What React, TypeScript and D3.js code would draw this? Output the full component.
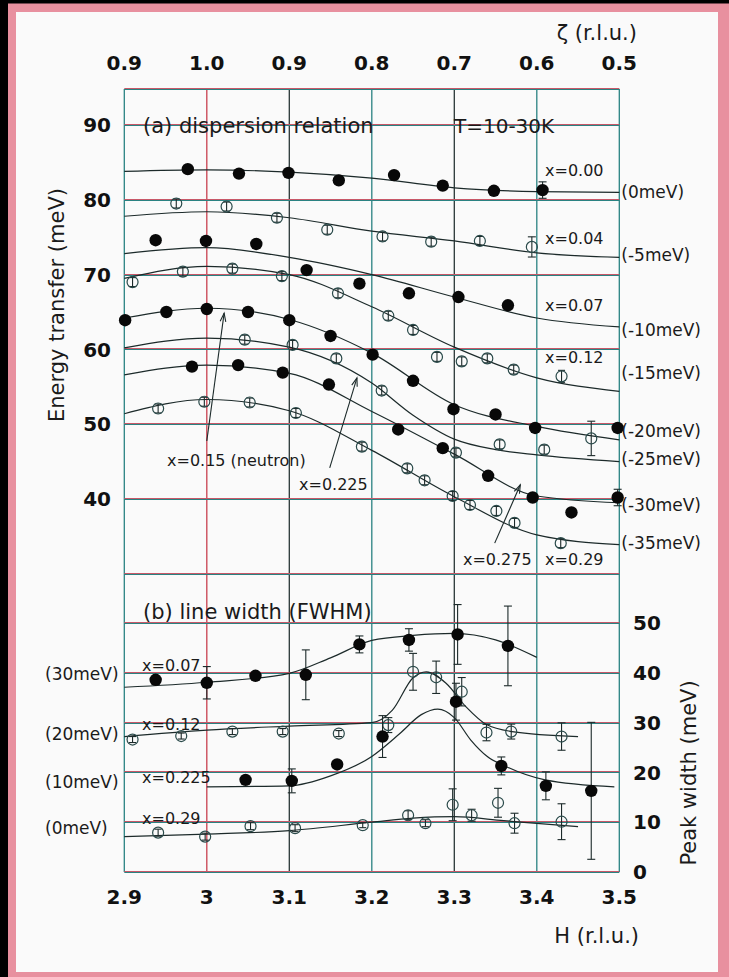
import React from "react";
import * as d3 from "d3";

// axis ticks / labels
const hTicks = [2.9, 3.0, 3.1, 3.2, 3.3, 3.4, 3.5];
const hLabels = ["2.9", "3", "3.1", "3.2", "3.3", "3.4", "3.5"];
const zetaLabels = ["0.9", "1.0", "0.9", "0.8", "0.7", "0.6", "0.5"];
const energyTicks = [90, 80, 70, 60, 50, 40];
const energyGrid = [90, 80, 70, 60, 50, 40, 30];
const widthTicks = [0, 10, 20, 30, 40, 50];
const widthGrid = [10, 20, 30, 40, 50];

// (a) dispersion relation: measured points [H, E(meV), err]
const dispX000 = [[2.977, 84.1, 0], [3.039, 83.5, 0], [3.099, 83.6, 0], [3.16, 82.6, 0], [3.227, 83.3, 0], [3.286, 81.9, 0], [3.348, 81.2, 0], [3.407, 81.3, 1.1]];
const dispX004 = [[2.963, 79.5, 0.6], [3.024, 79.1, 0.6], [3.085, 77.6, 0.6], [3.146, 76.0, 0.6], [3.213, 75.1, 0.6], [3.272, 74.4, 0.6], [3.331, 74.5, 0.6], [3.394, 73.7, 1.35]];
const dispX007 = [[2.938, 74.6, 0], [2.999, 74.5, 0], [3.06, 74.1, 0], [3.121, 70.6, 0], [3.185, 68.8, 0], [3.245, 67.5, 0], [3.305, 67.0, 0], [3.365, 65.9, 0]];
const dispX012 = [[2.91, 69.0, 0.6], [2.971, 70.4, 0.6], [3.031, 70.8, 0.6], [3.091, 69.8, 0.6], [3.159, 67.5, 0.6], [3.22, 64.5, 0.6], [3.25, 62.6, 0.6], [3.279, 59.0, 0.6], [3.309, 58.4, 0.6], [3.34, 58.8, 0.6], [3.372, 57.3, 0.6], [3.43, 56.4, 0.8]];
const dispX015 = [[2.901, 63.9, 0], [2.951, 65.0, 0], [3.0, 65.4, 0], [3.05, 65.0, 0], [3.1, 63.9, 0], [3.15, 61.8, 0], [3.201, 59.3, 0], [3.25, 55.8, 0], [3.299, 52.0, 0], [3.35, 51.3, 0], [3.398, 49.5, 0], [3.498, 49.5, 0]];
const dispX0225 = [[3.046, 61.3, 0.6], [3.104, 60.6, 0.6], [3.157, 58.8, 0.6], [3.212, 54.5, 0.6], [3.302, 46.2, 0.6], [3.355, 47.3, 0.6], [3.409, 46.6, 0.6], [3.466, 48.1, 2.3]];
const dispX0275 = [[2.982, 57.7, 0], [3.038, 57.9, 0], [3.092, 56.9, 0], [3.148, 55.3, 0], [3.232, 49.3, 0], [3.286, 46.8, 0], [3.341, 43.1, 0], [3.395, 40.2, 0], [3.442, 38.2, 0], [3.498, 40.2, 1.1]];
const dispX029 = [[2.941, 52.1, 0.6], [2.997, 53.0, 0.6], [3.052, 52.9, 0.6], [3.108, 51.5, 0.6], [3.188, 47.0, 0.6], [3.243, 44.1, 0.6], [3.264, 42.5, 0.6], [3.298, 40.4, 0.6], [3.319, 39.2, 0.6], [3.351, 38.4, 0.6], [3.373, 36.8, 0.6], [3.429, 34.1, 0.6]];

// (a) fitted curves [H, E]
const fitX000 = [[2.9, 83.8], [3.0, 84.0], [3.1, 83.7], [3.2, 82.9], [3.3, 81.6], [3.4, 81.1], [3.5, 81.0]];
const fitX004 = [[2.9, 77.8], [3.0, 78.4], [3.1, 77.6], [3.2, 75.8], [3.3, 74.5], [3.4, 72.9], [3.5, 72.3]];
const fitX007 = [[2.9, 72.8], [3.0, 73.6], [3.1, 72.3], [3.2, 70.0], [3.3, 67.0], [3.4, 64.2], [3.5, 63.0]];
const fitX012 = [[2.9, 69.5], [3.0, 71.1], [3.1, 70.0], [3.2, 65.7], [3.3, 60.3], [3.4, 56.2], [3.5, 54.4]];
const fitX015 = [[2.9, 64.2], [3.0, 65.5], [3.1, 64.0], [3.2, 59.5], [3.3, 52.6], [3.4, 49.7], [3.5, 47.9]];
const fitX0225 = [[2.9, 60.2], [3.0, 61.5], [3.1, 60.3], [3.2, 55.5], [3.25, 51.2], [3.3, 48.0], [3.35, 46.6], [3.4, 45.9], [3.5, 45.0]];
const fitX0275 = [[2.9, 56.6], [3.0, 57.9], [3.1, 56.8], [3.2, 51.7], [3.3, 46.0], [3.4, 40.4], [3.5, 39.5]];
const fitX029 = [[2.9, 51.4], [3.0, 53.3], [3.1, 51.8], [3.2, 46.5], [3.3, 40.3], [3.4, 35.2], [3.5, 33.9]];

// (b) line width: measured points [H, FWHM(meV), err]
const widthX007 = [[2.938, 38.6, 0], [3.0, 38.0, 3.25], [3.059, 39.4, 0], [3.12, 39.6, 5.0], [3.185, 45.7, 1.7], [3.245, 46.6, 2.25], [3.304, 47.7, 6.0], [3.365, 45.4, 8.0]];
const widthX012 = [[2.91, 26.6, 0.6], [2.969, 27.3, 0.6], [3.031, 28.2, 0.6], [3.092, 28.2, 0.6], [3.16, 27.8, 0.6], [3.22, 29.5, 1.5], [3.25, 40.2, 3.7], [3.278, 39.1, 3.25], [3.309, 36.2, 2.85], [3.339, 28.0, 1.65], [3.369, 28.2, 1.5], [3.43, 27.2, 2.75]];
const widthX0225 = [[3.047, 18.5, 0], [3.103, 18.3, 2.4], [3.158, 21.6, 0], [3.213, 27.2, 4.2], [3.302, 34.2, 3.7], [3.357, 21.3, 1.8], [3.411, 17.3, 2.8], [3.466, 16.3, 13.75]];
const widthX029 = [[2.941, 7.9, 0.7], [2.998, 7.1, 0.7], [3.053, 9.2, 0.7], [3.107, 8.8, 0.7], [3.189, 9.4, 0.5], [3.244, 11.4, 0.9], [3.265, 9.8, 0.7], [3.298, 13.5, 3.2], [3.321, 11.4, 1.2], [3.353, 13.9, 2.9], [3.373, 9.8, 2.0], [3.43, 10.1, 3.6]];

// (b) fitted curves [H, FWHM]
const fitW007 = [[2.9, 37.1], [3.0, 38.1], [3.1, 39.9], [3.15, 43.0], [3.2, 46.5], [3.25, 47.5], [3.3, 47.9], [3.35, 46.6], [3.4, 43.1]];
const fitW012 = [[2.9, 27.2], [3.0, 28.5], [3.1, 29.3], [3.2, 30.0], [3.225, 32.5], [3.25, 39.0], [3.266, 40.2], [3.29, 37.9], [3.314, 33.2], [3.339, 29.6], [3.37, 28.2], [3.45, 27.2]];
const fitW0225 = [[3.0, 17.1], [3.1, 17.3], [3.15, 19.3], [3.2, 23.2], [3.234, 27.8], [3.26, 31.6], [3.28, 32.7], [3.3, 31.0], [3.32, 26.5], [3.34, 23.2], [3.36, 21.4], [3.41, 18.5], [3.494, 17.1]];
const fitW029 = [[2.9, 7.1], [3.0, 7.6], [3.1, 8.3], [3.2, 10.0], [3.25, 10.8], [3.3, 11.1], [3.36, 10.3], [3.45, 9.1]];

// text annotations in data units [text, H, value]
const dispLabels = [["x=0.00", 3.41, 83.9], ["x=0.04", 3.41, 74.85], ["x=0.07", 3.41, 65.9], ["x=0.12", 3.41, 58.9], ["x=0.275", 3.3105, 32.0], ["x=0.29", 3.41, 32.0], ["x=0.15 (neutron)", 2.9518, 45.2], ["x=0.225", 3.1118, 42.0]];
const dispOffsets = [["(0meV)", 81.0], ["(-5meV)", 72.6], ["(-10meV)", 62.6], ["(-15meV)", 56.8], ["(-20meV)", 49.1], ["(-25meV)", 45.3], ["(-30meV)", 39.2], ["(-35meV)", 34.1]];
const dispArrows = [[3.0, 47.75, 3.021, 64.85], [3.149, 44.15, 3.182, 56.2], [3.349, 34.1, 3.38, 41.9]];
const widthLabels = [["x=0.07", 41.6], ["x=0.12", 29.7], ["x=0.225", 19.1], ["x=0.29", 10.8]];
const widthOffsets = [["(30meV)", 39.8], ["(20meV)", 27.7], ["(10meV)", 18.1], ["(0meV)", 8.8]];

const dispSeries = [
  { pts: dispX000, fit: fitX000, filled: true },
  { pts: dispX004, fit: fitX004, filled: false },
  { pts: dispX007, fit: fitX007, filled: true },
  { pts: dispX012, fit: fitX012, filled: false },
  { pts: dispX015, fit: fitX015, filled: true },
  { pts: dispX0225, fit: fitX0225, filled: false },
  { pts: dispX0275, fit: fitX0275, filled: true },
  { pts: dispX029, fit: fitX029, filled: false },
];
const widthSeries = [
  { pts: widthX007, fit: fitW007, filled: true },
  { pts: widthX012, fit: fitW012, filled: false },
  { pts: widthX0225, fit: fitW0225, filled: true },
  { pts: widthX029, fit: fitW029, filled: false },
];

const FONT = "'DejaVu Sans', sans-serif";
const RED = "#c85868";
const TEAL = "#2a8282";
const INK = "#1c2a2a";

export default function App() {
  const W = 729, H = 977;
  const x = d3.scaleLinear().domain([2.9, 3.5]).range([124.3, 619.3]);
  const yE = d3.scaleLinear().domain([30, 90]).range([573.8, 125]);
  const yW = d3.scaleLinear().domain([0, 50]).range([872, 623]);
  const frameTop = 89;
  const frameBottom = yW(0);

  const lineE = d3.line<number[]>().x(d => x(d[0])).y(d => yE(d[1])).curve(d3.curveMonotoneX);
  const lineW = d3.line<number[]>().x(d => x(d[0])).y(d => yW(d[1])).curve(d3.curveMonotoneX);

  const vColors = [TEAL, "#c8404f", "#2a3636", TEAL, "#2a3636", TEAL, TEAL];

  // grid line drawn as a red/teal doublet, snapped to pixel rows
  const hLine = (y: number, key: string) => {
    const r = Math.round(y);
    return (
      <g key={key}>
        <line x1={x(2.9)} x2={x(3.5)} y1={r - 0.5} y2={r - 0.5} stroke={RED} strokeWidth={1} />
        <line x1={x(2.9)} x2={x(3.5)} y1={r + 0.5} y2={r + 0.5} stroke={TEAL} strokeWidth={1} />
      </g>
    );
  };

  const markers = (series: typeof dispSeries, y: (v: number) => number, pre: string) =>
    series.map((s, si) => (
      <g key={pre + si}>
        {s.pts.map((p, i) => {
          const cx = x(p[0]), cy = y(p[1]);
          const e = p[2] || 0;
          const cap = e > 1 ? 4 : 3.5;
          return (
            <g key={i}>
              {e > 0 && (
                <g stroke={INK} strokeWidth={1.1}>
                  <line x1={cx} x2={cx} y1={y(p[1] - e)} y2={y(p[1] + e)} />
                  <line x1={cx - cap} x2={cx + cap} y1={y(p[1] - e)} y2={y(p[1] - e)} />
                  <line x1={cx - cap} x2={cx + cap} y1={y(p[1] + e)} y2={y(p[1] + e)} />
                </g>
              )}
              {s.filled ? (
                <circle cx={cx} cy={cy} r={6.2} fill="#080808" />
              ) : (
                <circle cx={cx} cy={cy} r={5.5} fill="none" stroke="#2a4a4a" strokeWidth={1.2} />
              )}
            </g>
          );
        })}
      </g>
    ));

  return (
    <svg width={W} height={H} style={{ position: "absolute", left: 0, top: 0 }} fontFamily={FONT}>
      <rect x={0} y={0} width={W} height={H} fill="#000" />
      <rect x={8} y={3.5} width={W - 8} height={H - 3.5} fill="#e8909f" />
      <rect x={16} y={12} width={702} height={960} fill="#fafafa" />

      {/* grid */}
      {hTicks.map((h, i) => (
        <line key={"v" + i} x1={x(h)} x2={x(h)} y1={frameTop} y2={frameBottom} stroke={vColors[i]} strokeWidth={1.3} />
      ))}
      {hLine(frameTop, "top")}
      {energyGrid.map(e => hLine(yE(e), "e" + e))}
      {widthGrid.map(w => hLine(yW(w), "w" + w))}
      {hLine(frameBottom, "bottom")}

      {/* fitted curves */}
      {dispSeries.map((s, i) => (
        <path key={"fa" + i} d={lineE(s.fit) || ""} fill="none" stroke={INK} strokeWidth={1.2} />
      ))}
      {widthSeries.map((s, i) => (
        <path key={"fb" + i} d={lineW(s.fit) || ""} fill="none" stroke={INK} strokeWidth={1.2} />
      ))}

      {markers(dispSeries, yE, "a")}
      {markers(widthSeries, yW, "b")}

      {/* arrows */}
      {dispArrows.map((a, i) => {
        const x1 = x(a[0]), y1 = yE(a[1]), x2 = x(a[2]), y2 = yE(a[3]);
        const ang = Math.atan2(y2 - y1, x2 - x1);
        const len = 9, spread = 0.32;
        const l = [x2 - len * Math.cos(ang - spread), y2 - len * Math.sin(ang - spread)];
        const r = [x2 - len * Math.cos(ang + spread), y2 - len * Math.sin(ang + spread)];
        return (
          <g key={"ar" + i} stroke={INK} strokeWidth={1.1} fill="none">
            <line x1={x1} y1={y1} x2={x2} y2={y2} />
            <polyline points={`${l[0]},${l[1]} ${x2},${y2} ${r[0]},${r[1]}`} />
          </g>
        );
      })}

      {/* panel texts */}
      <g fill="#1a1a1a">
        <text x={x(2.9227)} y={yE(89.9)} dy="0.36em" fontSize={21}>(a) dispersion relation</text>
        <text x={x(3.2996)} y={yE(89.9)} dy="0.36em" fontSize={20}>T=10-30K</text>
        <text x={x(2.9227)} y={yW(52.4)} dy="0.36em" fontSize={21}>(b) line width (FWHM)</text>
        {dispLabels.map((d, i) => (
          <text key={"dl" + i} x={x(d[1] as number)} y={yE(d[2] as number)} dy="0.36em" fontSize={16}>{d[0]}</text>
        ))}
        {dispOffsets.map((d, i) => (
          <text key={"do" + i} x={x(3.5) + 2} y={yE(d[1] as number)} dy="0.36em" fontSize={17}>{d[0]}</text>
        ))}
        {widthLabels.map((d, i) => (
          <text key={"wl" + i} x={x(2.9215)} y={yW(d[1] as number)} dy="0.36em" fontSize={16}>{d[0]}</text>
        ))}
        {widthOffsets.map((d, i) => (
          <text key={"wo" + i} x={45} y={yW(d[1] as number)} dy="0.36em" fontSize={17}>{d[0]}</text>
        ))}
      </g>

      {/* axes labels */}
      <g fill="#111" fontWeight="bold" fontSize={20}>
        {hTicks.map((h, i) => (
          <text key={"bt" + i} x={x(h)} y={897} dy="0.36em" textAnchor="middle">{hLabels[i]}</text>
        ))}
        {hTicks.map((h, i) => (
          <text key={"tt" + i} x={x(h)} y={63} dy="0.36em" textAnchor="middle">{zetaLabels[i]}</text>
        ))}
        {energyTicks.map(e => (
          <text key={"et" + e} x={111} y={yE(e)} dy="0.36em" textAnchor="end">{e}</text>
        ))}
        {widthTicks.map(w => (
          <text key={"wt" + w} x={633} y={yW(w)} dy="0.36em" textAnchor="start">{w}</text>
        ))}
      </g>
      <g fill="#1a1a1a" fontSize={21}>
        <text x={637} y={32} dy="0.36em" textAnchor="end">ζ (r.l.u.)</text>
        <text x={639} y={935} dy="0.36em" textAnchor="end">H (r.l.u.)</text>
        <text transform="translate(56,305) rotate(-90)" dy="0.36em" textAnchor="middle">Energy transfer (meV)</text>
        <text transform="translate(688,773) rotate(-90)" dy="0.36em" textAnchor="middle">Peak width (meV)</text>
      </g>
    </svg>
  );
}
